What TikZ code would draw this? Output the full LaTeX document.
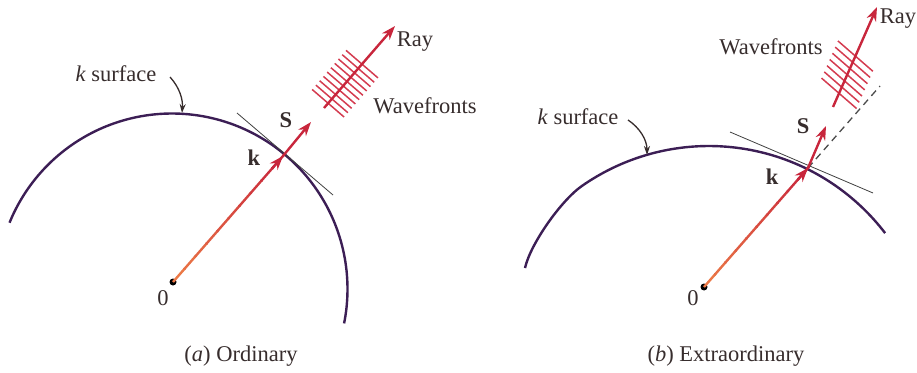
\documentclass[tikz,border=0pt]{standalone}
\usepackage{fontspec}
\setmainfont{Liberation Serif}
\usetikzlibrary{arrows.meta,calc}
\definecolor{arccol}{RGB}{60,30,85}
\definecolor{redcol}{RGB}{200,38,60}
\definecolor{wavecol}{RGB}{212,60,80}
\definecolor{txtcol}{RGB}{55,45,45}
\definecolor{orcol}{RGB}{235,120,70}
\tikzset{
  surf/.style={draw=arccol, line width=2.4pt},
  redarrow/.style={draw=redcol, line width=2.4pt, -{Stealth[length=14pt,width=10pt]}},
  wave/.style={draw=wavecol, line width=1.5pt},
  tang/.style={draw=black!75, line width=0.8pt},
  pointer/.style={draw=txtcol, line width=1.3pt, -{Stealth[length=9pt,width=6pt]}},
  lbl/.style={text=txtcol, inner sep=0pt, font=\fontsize{22.5}{27}\selectfont},
  blbl/.style={text=txtcol, inner sep=0pt, font=\fontsize{22.5}{27}\selectfont\bfseries},
  dot/.style={circle, fill=black, inner sep=0pt, minimum size=7pt}
}
\begin{document}
\begin{tikzpicture}[x=1pt,y=-1pt]
\useasboundingbox (0,0) rectangle (917,372);
% ---------- (a) Ordinary ----------
\draw[surf] plot[domain=-11.3:157.8, samples=80, smooth] ({172+175.5*cos(\x)},{289-175.5*sin(\x)});
\coordinate (P1) at (283,156);
\coordinate (S1) at (311,122);
\coordinate (R1s) at (324,108);
\coordinate (R1e) at (395,26);
\coordinate (T1a) at (237,113);
\coordinate (T1b) at (333,195);
\coordinate (A1s) at (170,77);
\coordinate (A1e) at (182,113);
\node[dot] (O1) at (173,282) {};
\draw[tang] (T1a) -- (T1b);
\foreach \i in {0,...,9}{
  \pgfmathsetmacro{\ta}{\i/10}
  \pgfmathsetmacro{\tb}{(\i+1)/10+0.01}
  \pgfmathsetmacro{\mix}{100-\i*11}
  \draw[draw=orcol!\mix!redcol, line width=2.4pt] ($(O1)!\ta!(P1)$) -- ($(O1)!\tb!(P1)$);
}
\draw[redarrow] ($(O1)!0.9!(P1)$) -- (P1);
\draw[redarrow] (P1) -- (S1);
\foreach \t in {0.058,0.111,0.164,0.217,0.270,0.323,0.376,0.429,0.482,0.535}{
  \coordinate (c) at ($(R1s)!\t!(R1e)$);
  \draw[wave] ($(c)+(-16,-13.8)$) -- ($(c)+(16,13.8)$);
}
\draw[redarrow] (R1s) -- (R1e);
\draw[pointer] (A1s) .. controls (180,88) and (183,100) .. (A1e);
\node[lbl] (ksurf1) at (116,74) {\textit{k} surface};
\node[lbl] (ray1) at (415,42) {Ray};
\node[lbl] (wf1) at (425,106) {Wavefronts};
\node[blbl] (S1l) at (286,120) {S};
\node[blbl] (k1l) at (254,158) {k};
\node[lbl] (z1) at (163,298) {0};
\node[lbl] (cap1) at (241,356) {(\textit{a}) Ordinary};
% ---------- (b) Extraordinary ----------
\draw[surf] plot[domain=37.4:125, samples=80, smooth] ({708.9+221.8*cos(\x)},{367.8-221.8*sin(\x)})
  .. controls (561.2,200.5) and (530.5,243.6) .. (525,268);
\coordinate (P2) at (808,168);
\coordinate (S2) at (826,126);
\coordinate (D2) at (880,86);
\coordinate (R2s) at (833,107);
\coordinate (R2e) at (877,7);
\coordinate (T2a) at (730,132);
\coordinate (T2b) at (873,193);
\coordinate (A2s) at (628,120);
\coordinate (A2e) at (647,155);
\node[dot] (O2) at (704,287) {};
\draw[tang] (T2a) -- (T2b);
\draw[draw=black!70, line width=1.3pt, dash pattern=on 7pt off 5pt] (P2) -- (D2);
\foreach \i in {0,...,9}{
  \pgfmathsetmacro{\ta}{\i/10}
  \pgfmathsetmacro{\tb}{(\i+1)/10+0.01}
  \pgfmathsetmacro{\mix}{100-\i*11}
  \draw[draw=orcol!\mix!redcol, line width=2.4pt] ($(O2)!\ta!(P2)$) -- ($(O2)!\tb!(P2)$);
}
\draw[redarrow] ($(O2)!0.9!(P2)$) -- (P2);
\draw[redarrow] (P2) -- (S2);
\foreach \t in {0.137,0.199,0.261,0.323,0.385,0.447,0.509}{
  \coordinate (c) at ($(R2s)!\t!(R2e)$);
  \draw[wave] ($(c)+(-17.5,-15.2)$) -- ($(c)+(17.5,15.2)$);
}
\draw[redarrow] (R2s) -- (R2e);
\draw[pointer] (A2s) .. controls (640,128) and (647,140) .. (A2e);
\node[lbl] (ksurf2) at (578,117) {\textit{k} surface};
\node[lbl] (ray2) at (898,19) {Ray};
\node[lbl] (wf2) at (771,47) {Wavefronts};
\node[blbl] (S2l) at (803,126) {S};
\node[blbl] (k2l) at (772,177) {k};
\node[lbl] (z2) at (693,298) {0};
\node[lbl] (cap2) at (726,356) {(\textit{b}) Extraordinary};
\end{tikzpicture}
\end{document}
